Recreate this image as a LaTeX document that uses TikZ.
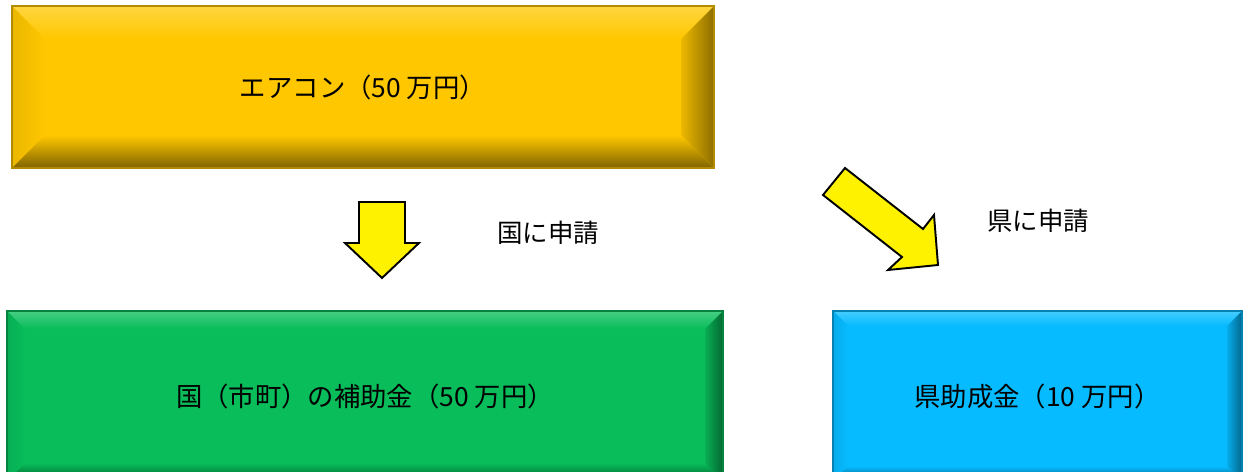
\documentclass[tikz,border=0pt]{standalone}
\usepackage{fontspec}
\newfontfamily\jp{Noto Sans CJK JP}
\usepackage{tikz}
\usetikzlibrary{positioning,calc}

\definecolor{boxgold}{RGB}{255,199,0}
\definecolor{boxgreen}{RGB}{8,189,90}
\definecolor{boxblue}{RGB}{6,187,255}

\begin{document}
\begin{tikzpicture}[
    bevel/.style 2 args={rectangle, fill=#1, draw=#1!70!black, line width=0.6pt,
        minimum height=3.24cm, inner sep=0pt,
        font=\jp\fontsize{15}{17}\selectfont,
        path picture={
            \coordinate (pnw) at (path picture bounding box.north west);
            \coordinate (pne) at (path picture bounding box.north east);
            \coordinate (psw) at (path picture bounding box.south west);
            \coordinate (pse) at (path picture bounding box.south east);
            % top and left
            \shade[top color=#1!75!white, bottom color=#1] (pnw) -- (pne) -- ($(pne)+(-#2,-#2)$) -- ($(pnw)+(#2,-#2)$) -- cycle;
            \shade[left color=#1!92!black, right color=#1] (pnw) -- ($(pnw)+(#2,-#2)$) -- ($(psw)+(#2,#2)$) -- (psw) -- cycle;
            % bottom and right
            \shade[top color=#1, bottom color=#1!50!black] (psw) -- ($(psw)+(#2,#2)$) -- ($(pse)+(-#2,#2)$) -- (pse) -- cycle;
            \shade[left color=#1!92!black, right color=#1!55!black] (pne) -- ($(pne)+(-#2,-#2)$) -- ($(pse)+(-#2,#2)$) -- (pse) -- cycle;
        }},
    blockarrow/.style={draw=black, line width=1.1pt, fill=yellow, line join=miter},
    note/.style={font=\jp\fontsize{14.5}{16}\selectfont}
]
\useasboundingbox (0,0) rectangle (24.96,-9.44);

% Boxes
\node[bevel={boxgold}{0.65cm}, minimum width=14.04cm] (aircon) at (7.26,-1.74) {エアコン（50 万円）};
\node[bevel={boxgreen}{0.36cm}, minimum width=14.32cm, minimum height=3.4cm] (national) at (7.30,-7.92) {国（市町）の補助金（50 万円）};
\node[bevel={boxblue}{0.3cm}, minimum width=8.18cm, minimum height=3.4cm] (pref) at (20.75,-7.92) {県助成金（10 万円）};

% Arrows
\draw[blockarrow] (7.18,-4.04) -- (8.10,-4.04) -- (8.10,-4.86) -- (8.38,-4.86)
    -- (7.64,-5.56) -- (6.90,-4.86) -- (7.18,-4.86) -- cycle;
\draw[blockarrow] (16.90,-3.36) -- (18.46,-4.58) -- (18.68,-4.30) -- (18.76,-5.30)
    -- (17.76,-5.40) -- (18.04,-5.14) -- (16.46,-3.90) -- cycle;

% Labels
\node[note] (applyn) at (10.96,-4.66) {国に申請};
\node[note] (applyp) at (20.76,-4.42) {県に申請};

\end{tikzpicture}
\end{document}
